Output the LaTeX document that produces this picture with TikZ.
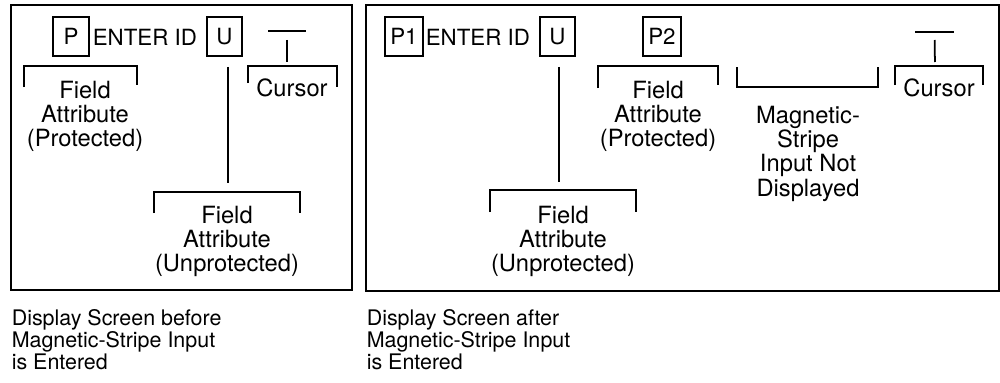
\documentclass[tikz,border=0pt]{standalone}
\usepackage{fontspec}
\setmainfont{TeX Gyre Heros}
\usetikzlibrary{positioning}

\begin{document}
\begin{tikzpicture}[x=0.02cm, y=-0.02cm, line width=0.9pt,
  every node/.style={font=\fontsize{13.5}{13.7}\selectfont, align=center, inner sep=0pt},
  keybox/.style={draw, line width=1.1pt, minimum height=0.78cm, font=\fontsize{12.7}{13.7}\selectfont},
  keytext/.style={anchor=west, font=\fontsize{12.7}{13.7}\selectfont},
  lbl/.style={anchor=north},
  stem/.style={line width=1pt},
  caption/.style={align=left, anchor=north west, font=\fontsize{12.2}{12.5}\selectfont}]
\useasboundingbox (0,0) rectangle (1000,382);
\draw (11,5) rectangle (352,290);
\draw (366,5) rectangle (999,291);
% before
\node[keybox, minimum width=0.72cm] (lp) at (71,36.5) {P};
\node[keytext] (lenter) at (92,37) {ENTER ID};
\node[keybox, minimum width=0.70cm] (lu) at (224.5,36.5) {U};
\draw (268,31) -- node[coordinate] (lcb) {} (306,31);
\node (lcur) at (292,88) {Cursor};
\draw (248,83) |- (337,66) -- (337,87);
\coordinate (lcurbr) at (287,66);
\draw[stem, shorten <=0.18cm, shorten >=0.08cm] (lcb) -- (lcurbr);
\node[lbl] (lprot) at (85,80) {Field\\Attribute\\(Protected)};
\draw (24,87) |- (137,66) -- (137,85);
\node[lbl] (lunprot) at (227,205) {Field\\Attribute\\(Unprotected)};
\draw (154,213) |- (300,192) -- (300,213);
\coordinate (lunbr) at (228,192);
\draw[stem, shorten <=0.2cm, shorten >=0.18cm] (lu.south -| lunbr) -- (lunbr);
% after
\node[keybox, minimum width=0.76cm] (rp1) at (404,36.5) {P1};
\node[keytext] (renter) at (425,37) {ENTER ID};
\node[keybox, minimum width=0.70cm] (ru) at (557.5,36.5) {U};
\node[keybox, minimum width=0.76cm] (rp2) at (662,36.5) {P2};
\node[lbl] (rprot) at (658,80) {Field\\Attribute\\(Protected)};
\draw (598,88) |- (718,66) -- (718,85);
\node[lbl, font=\fontsize{13.5}{12.6}\selectfont] (rmag) at (808,105) {Magnetic-\\Stripe\\Input Not\\Displayed};
\draw (737,67) |- (878,87) -- (878,67);
\draw (915,32) -- node[coordinate] (rcb) {} (954,32);
\node (rcur) at (939,88) {Cursor};
\draw (895,85) |- (983,66) -- (983,85);
\coordinate (rcurbr) at (935,66);
\draw[stem, shorten <=0.16cm, shorten >=0.08cm] (rcb) -- (rcurbr);
\node[lbl] (runprot) at (563,205) {Field\\Attribute\\(Unprotected)};
\draw (490,212) |- (636,190) -- (636,212);
\coordinate (runbr) at (559,190);
\draw[stem, shorten <=0.2cm, shorten >=0.16cm] (ru.south -| runbr) -- (runbr);
% captions
\node[caption] (lcap) at (11,309) {Display Screen before\\Magnetic-Stripe Input\\is Entered};
\node[caption] (rcap) at (366,309) {Display Screen after\\Magnetic-Stripe Input\\is Entered};
\end{tikzpicture}
\end{document}
